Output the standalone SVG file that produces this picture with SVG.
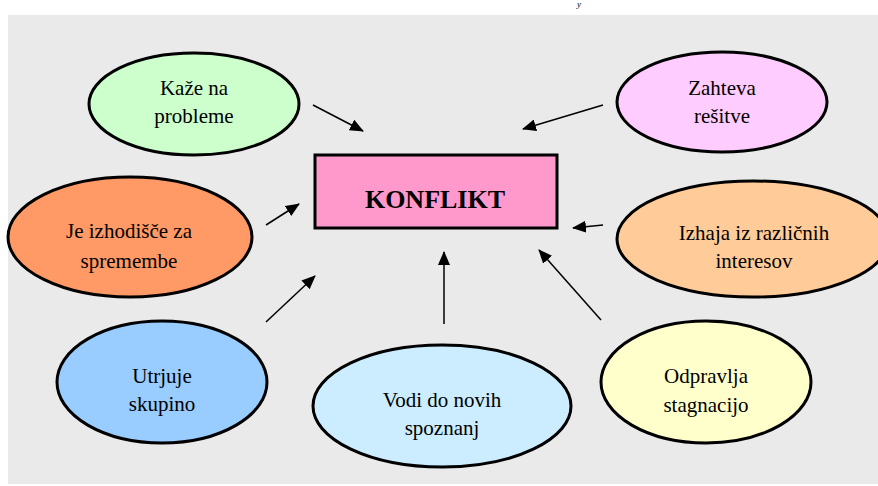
<svg xmlns="http://www.w3.org/2000/svg" width="878" height="486" viewBox="0 0 878 486">
<style>
.bg{fill:#EAEAEA}
.node{stroke:#000;stroke-width:3}
.lbl{font-family:"Liberation Serif","Times New Roman",serif;font-size:21px;fill:#000;text-anchor:middle}
.title{font-family:"Liberation Serif","Times New Roman",serif;font-size:26px;font-weight:bold;fill:#000;text-anchor:middle}
.conn line{stroke:#000;stroke-width:1.5;fill:none;marker-end:url(#ah)}
</style>
<defs>
<marker id="ah" viewBox="0 0 14 12" refX="13" refY="6" markerWidth="14" markerHeight="12" markerUnits="userSpaceOnUse" orient="auto">
<path d="M0,0 L14,6 L0,12 z" fill="#000"/>
</marker>
</defs>
<rect width="878" height="486" fill="#fff"/>
<rect class="bg" x="8" y="15" width="870" height="469"/>
<text x="577" y="7" font-family="Liberation Serif,serif" font-style="italic" font-size="9">y</text>

<g class="conn" id="connectors">
<line x1="313" y1="105" x2="363" y2="131"/>
<line x1="603" y1="105" x2="523" y2="129"/>
<line x1="266" y1="225" x2="299" y2="204"/>
<line x1="603" y1="225" x2="573" y2="228"/>
<line x1="266" y1="322" x2="315" y2="276"/>
<line x1="444" y1="324" x2="444" y2="252"/>
<line x1="601" y1="320" x2="539" y2="250"/>
</g>

<g id="konflikt">
<rect class="node" x="315" y="155" width="242" height="73" fill="#FF99CC"/>
<text class="title" x="435" y="208">KONFLIKT</text>
</g>

<g id="kaze">
<ellipse class="node" cx="194" cy="104" rx="105" ry="51" fill="#CCFFCC"/>
<text class="lbl" x="194" y="95">Kaže na</text>
<text class="lbl" x="194" y="123">probleme</text>
</g>

<g id="zahteva">
<ellipse class="node" cx="722" cy="102" rx="105" ry="50" fill="#FFCCFF"/>
<text class="lbl" x="722" y="95">Zahteva</text>
<text class="lbl" x="722" y="123">rešitve</text>
</g>

<g id="izhodisce">
<ellipse class="node" cx="130" cy="237" rx="122" ry="60" fill="#FF9966"/>
<text class="lbl" x="129" y="238">Je izhodišče za</text>
<text class="lbl" x="129" y="268">spremembe</text>
</g>

<g id="izhaja">
<ellipse class="node" cx="753" cy="239" rx="136" ry="58" fill="#FFCC99"/>
<text class="lbl" x="754" y="240">Izhaja iz različnih</text>
<text class="lbl" x="754" y="268">interesov</text>
</g>

<g id="utrjuje">
<ellipse class="node" cx="162" cy="382" rx="105" ry="61" fill="#99CCFF"/>
<text class="lbl" x="162" y="383">Utrjuje</text>
<text class="lbl" x="162" y="411">skupino</text>
</g>

<g id="vodi">
<ellipse class="node" cx="442" cy="406" rx="129" ry="61" fill="#CCECFF"/>
<text class="lbl" x="442" y="407">Vodi do novih</text>
<text class="lbl" x="442" y="435">spoznanj</text>
</g>

<g id="odpravlja">
<ellipse class="node" cx="706" cy="382" rx="105" ry="61" fill="#FFFFCC"/>
<text class="lbl" x="706" y="383">Odpravlja</text>
<text class="lbl" x="706" y="412">stagnacijo</text>
</g>
</svg>
